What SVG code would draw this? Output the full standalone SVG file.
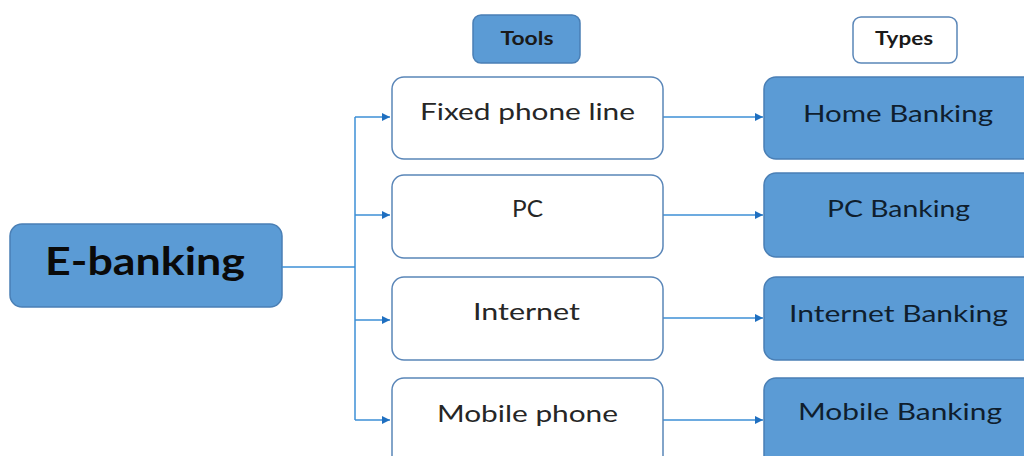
<svg xmlns="http://www.w3.org/2000/svg" width="1024" height="456" viewBox="0 0 1024 456">
  <style>
    .blue { fill: #5b9bd5; stroke: #4a7fb5; stroke-width: 1.5; }
    .white { fill: #ffffff; stroke: #5a86b8; stroke-width: 1.5; }
    .tool { font-family: Lato, "Open Sans", "Liberation Sans", sans-serif; font-size: 24px; fill: #262626; text-anchor: middle; }
    .type { font-family: Lato, "Open Sans", "Liberation Sans", sans-serif; font-size: 24px; fill: #0f1e2e; text-anchor: middle; }
    .head { font-family: Lato, "Open Sans", "Liberation Sans", sans-serif; font-size: 18px; font-weight: bold; fill: #1a1a1a; text-anchor: middle; }
    .main { font-family: Lato, "Open Sans", "Liberation Sans", sans-serif; font-size: 39px; font-weight: bold; fill: #0a0a0a; text-anchor: middle; }
    .link { fill: none; stroke: #3d8fd6; stroke-width: 1.5; }
  </style>
  <defs>
    <marker id="arrow" viewBox="0 0 10 10" refX="10" refY="5" markerWidth="8" markerHeight="8" markerUnits="userSpaceOnUse" orient="auto">
      <path d="M0,0 L10,5 L0,10 z" fill="#1f6fc0"/>
    </marker>
  </defs>

  <rect width="1024" height="456" fill="#ffffff"/>

  <!-- column headings -->
  <g id="tools-heading">
    <rect class="blue" x="473" y="15" width="107" height="48" rx="8"/>
    <text class="head" x="527" y="45" textLength="53" lengthAdjust="spacingAndGlyphs">Tools</text>
  </g>
  <g id="types-heading">
    <rect class="white" x="853" y="17" width="104" height="46" rx="8"/>
    <text class="head" x="904" y="45" textLength="58" lengthAdjust="spacingAndGlyphs">Types</text>
  </g>

  <!-- root -->
  <g id="e-banking">
    <rect class="blue" x="10" y="224" width="272" height="83" rx="12"/>
    <text class="main" x="145" y="275" textLength="200" lengthAdjust="spacingAndGlyphs">E-banking</text>
  </g>

  <!-- connectors -->
  <g id="connectors">
    <path class="link" d="M282,267 H355"/>
    <path class="link" d="M355,117 V420"/>
    <path class="link" d="M355,117 H390" marker-end="url(#arrow)"/>
    <path class="link" d="M355,215 H390" marker-end="url(#arrow)"/>
    <path class="link" d="M355,320 H390" marker-end="url(#arrow)"/>
    <path class="link" d="M355,420 H390" marker-end="url(#arrow)"/>
    <path class="link" d="M663,117 H763" marker-end="url(#arrow)"/>
    <path class="link" d="M663,215 H763" marker-end="url(#arrow)"/>
    <path class="link" d="M663,318 H763" marker-end="url(#arrow)"/>
    <path class="link" d="M663,420 H763" marker-end="url(#arrow)"/>
  </g>

  <!-- tools -->
  <g id="tool-fixed-phone">
    <rect class="white" x="392" y="77" width="271" height="82" rx="12"/>
    <text class="tool" x="527.5" y="120" textLength="215" lengthAdjust="spacingAndGlyphs">Fixed phone line</text>
  </g>
  <g id="tool-pc">
    <rect class="white" x="392" y="175" width="271" height="83" rx="12"/>
    <text class="tool" x="527.5" y="217" textLength="31" lengthAdjust="spacingAndGlyphs">PC</text>
  </g>
  <g id="tool-internet">
    <rect class="white" x="392" y="277" width="271" height="83" rx="12"/>
    <text class="tool" x="526.5" y="320" textLength="107" lengthAdjust="spacingAndGlyphs">Internet</text>
  </g>
  <g id="tool-mobile">
    <rect class="white" x="392" y="378" width="271" height="90" rx="12"/>
    <text class="tool" x="527.5" y="422" textLength="181" lengthAdjust="spacingAndGlyphs">Mobile phone</text>
  </g>

  <!-- banking types -->
  <g id="type-home">
    <rect class="blue" x="764" y="77" width="272" height="82" rx="12"/>
    <text class="type" x="898" y="122" textLength="190" lengthAdjust="spacingAndGlyphs">Home Banking</text>
  </g>
  <g id="type-pc">
    <rect class="blue" x="764" y="173" width="272" height="84" rx="12"/>
    <text class="type" x="898.5" y="217" textLength="143" lengthAdjust="spacingAndGlyphs">PC Banking</text>
  </g>
  <g id="type-internet">
    <rect class="blue" x="764" y="277" width="272" height="83" rx="12"/>
    <text class="type" x="898.5" y="322" textLength="219" lengthAdjust="spacingAndGlyphs">Internet Banking</text>
  </g>
  <g id="type-mobile">
    <rect class="blue" x="764" y="378" width="272" height="90" rx="12"/>
    <text class="type" x="900" y="420" textLength="204" lengthAdjust="spacingAndGlyphs">Mobile Banking</text>
  </g>
</svg>
